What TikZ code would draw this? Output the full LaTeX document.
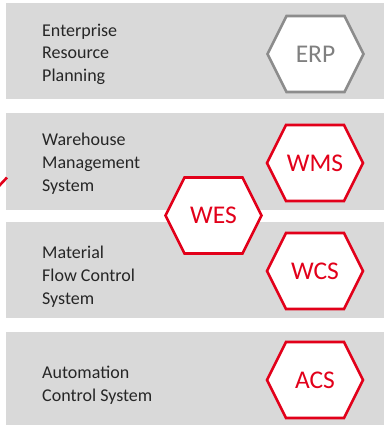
\documentclass[tikz,border=0pt]{standalone}
\usepackage{fontspec}
\setmainfont{Carlito}
\definecolor{bandgray}{HTML}{D9D9D9}
\definecolor{hexred}{HTML}{E2001A}
\definecolor{hexgray}{HTML}{8C8C8C}
\definecolor{txtdark}{HTML}{262626}
\definecolor{erptxt}{HTML}{808080}
\newcommand\myhex[6]{%
  \draw[#4,fill=white,line width=2.6pt,line join=miter]
    (#2-48,#3) -- (#2-29,#3-38) -- (#2+29,#3-38) -- (#2+48,#3) -- (#2+29,#3+38) -- (#2-29,#3+38) -- cycle;
  \node[hexlabel,text=#5] (#1) at (#2,#3) {#6};
}
\begin{document}
\begin{tikzpicture}[x=1pt,y=-1pt,
  band/.style={fill=bandgray,draw=none},
  bandtext/.style={anchor=base west,inner sep=0pt,font=\fontsize{18}{22}\selectfont,text=txtdark},
  hexlabel/.style={inner sep=0pt,font=\fontsize{25.5}{28}\selectfont},
  stub/.style={draw=hexred,line width=2.6pt}]
\useasboundingbox (0,0) rectangle (384,426);
\fill[white] (0,0) rectangle (384,426);
% bands
\path[band] (6,3) rectangle (384,99);
\path[band] (6,113) rectangle (384,210);
\path[band] (6,222) rectangle (384,318);
\path[band] (6,332) rectangle (384,425);
% band texts
\node[bandtext] (t1a) at (42,36) {Enterprise};
\node[bandtext] (t1b) at (42,58.5) {Resource};
\node[bandtext] (t1c) at (42,81) {Planning};
\node[bandtext] (t2a) at (42,145) {Warehouse};
\node[bandtext] (t2b) at (42,168) {Management};
\node[bandtext] (t2c) at (42,191) {System};
\node[bandtext] (t3a) at (42,258) {Material};
\node[bandtext] (t3b) at (42,281) {Flow Control};
\node[bandtext] (t3c) at (42,304) {System};
\node[bandtext] (t4a) at (42,378) {Automation};
\node[bandtext] (t4b) at (42,401.5) {Control System};
% hexagons
\myhex{erp}{315.5}{54}{draw=hexgray}{erptxt}{ERP}
\myhex{wms}{315}{163}{draw=hexred}{hexred}{WMS}
\myhex{wes}{213.5}{215.5}{draw=hexred}{hexred}{WES}
\myhex{wcs}{315}{271}{draw=hexred}{hexred}{WCS}
\myhex{acs}{315}{380}{draw=hexred}{hexred}{ACS}
% cut-off connector stub at left edge
\coordinate (s1) at (-1,186);
\coordinate (s2) at (7,177.5);
\draw[stub] (s1) -- (s2);
\end{tikzpicture}
\end{document}
